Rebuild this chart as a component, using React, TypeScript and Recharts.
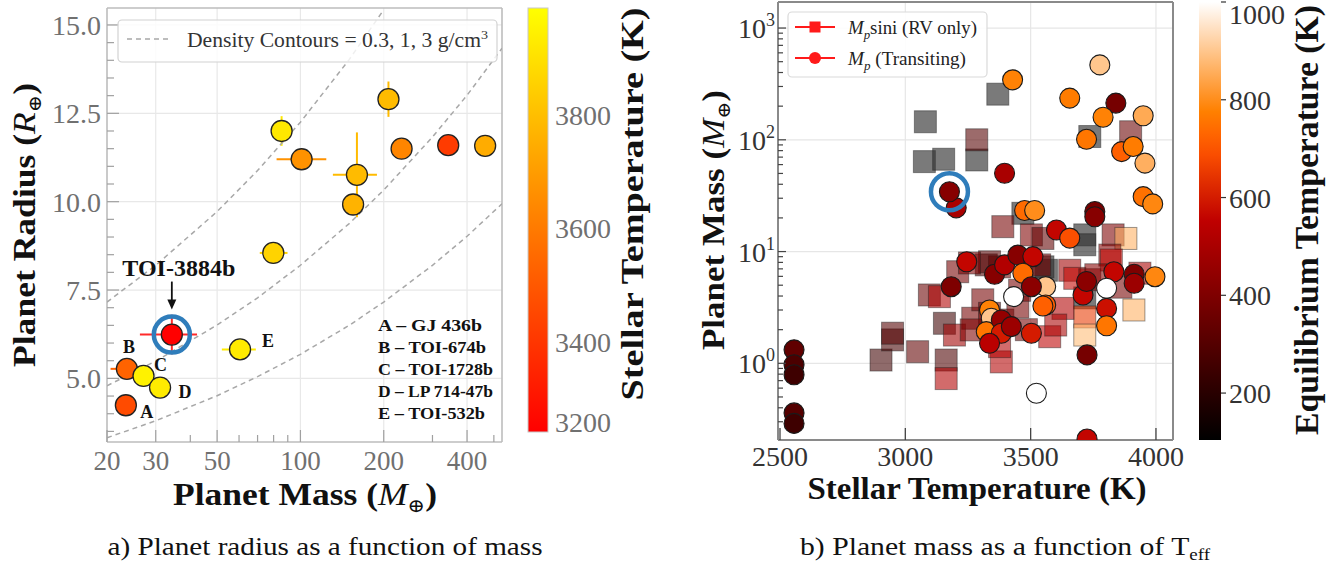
import React from "react";
import { ScatterChart, Scatter, XAxis, YAxis, ErrorBar, ReferenceLine } from "recharts";

const SERIF = "'Liberation Serif', 'DejaVu Serif', serif";

// ---------- panel a: planet radius vs mass ----------
const massA = [85.5, 101, 160, 155, 208, 232, 342, 465, 79.8, 60.5, 23.6, 27.1, 31.1, 23.4];
const radiusA = [12.0, 11.2, 10.76, 9.92, 12.9, 11.5, 11.6, 11.58, 8.55, 5.82, 5.27, 5.07, 4.74, 4.24];
const teffA = [3920, 3670, 3790, 3765, 3790, 3630, 3415, 3745, 3860, 3930, 3530, 3950, 3930, 3460];
const tagA = ["", "", "", "", "", "", "", "", "", "E", "B", "C", "D", "A"];
const massErrA = [[0, 0], [19, 23], [29, 29], [0, 0], [0, 0], [0, 0], [0, 0], [0, 0], [8.5, 10], [8.5, 8.5], [3, 3], [0, 0], [0, 0], [0, 0]];
const radErrA = [[0.42, 0.42], [0, 0], [1.2, 1.2], [0.3, 0.3], [0.5, 0.5], [0, 0], [0, 0], [0, 0], [0, 0], [0, 0], [0, 0], [0, 0], [0, 0], [0, 0]];

const toiMass = 34.3;
const toiRadius = 6.24;
const toiTeff = 3240;
const toiMassErr = [8, 8];
const toiRadErr = [0.56, 0.56];

// density contours (0.3, 1, 3 g/cm3)
const densityMass = [20, 30, 50, 70, 100, 150, 200, 300, 400, 535];
const rho03 = [7.16, 8.2, 9.72, 10.88, 12.25, 14.02, 15.43];
const rho1 = [4.79, 5.49, 6.51, 7.28, 8.2, 9.38, 10.33, 11.83, 13.01, 14.34];
const rho3 = [3.32, 3.8, 4.51, 5.05, 5.68, 6.5, 7.16, 8.2, 9.02, 9.94];

const massTicks = [20, 30, 40, 50, 60, 70, 80, 90, 100, 200, 300, 400, 500];
const massMajor = [20, 30, 50, 100, 200, 400];
const radiusTicks = [3.5, 4, 4.5, 5, 5.5, 6, 6.5, 7, 7.5, 8, 8.5, 9, 9.5, 10, 10.5, 11, 11.5, 12, 12.5, 13, 13.5, 14, 14.5, 15];
const radiusMajor = [5, 7.5, 10, 12.5, 15];

const keyLines = ["A – GJ 436b", "B – TOI-674b", "C – TOI-1728b", "D – LP 714-47b", "E – TOI-532b"];
const teffBarTicks = [3800, 3600, 3400, 3200];

// ---------- panel b: planet mass vs stellar temperature ----------
const circTeff = [2556, 2556, 2556, 2556, 2556, 3203, 3396, 3428, 3776, 3656, 3840, 3789, 3949, 3723, 3863, 3909, 3956, 3949, 3987, 3756, 3756, 3476, 3516, 3603, 3656, 3832, 3913, 3913, 3996, 3709, 3723, 3803, 3803, 3803, 3725, 3560, 3560, 3725, 3523, 3245, 3183, 3356, 3396, 3449, 3509, 3469, 3503, 3549, 3432, 3336, 3343, 3323, 3383, 3383, 3423, 3336, 3503];
const circMass = [1.32, 0.97, 0.79, 0.36, 0.29, 24.6, 50.2, 344, 468, 236, 213, 159, 164, 101, 78.4, 87, 61.8, 31, 26.7, 22.8, 20.5, 23.3, 23.3, 15.6, 13.2, 6.6, 6.27, 5.2, 5.96, 4.09, 5.4, 4.7, 3.1, 2.17, 1.19, 4.86, 3.33, 0.21, 0.54, 8.1, 4.85, 6.27, 7.6, 9.3, 9.0, 6.4, 4.85, 3.26, 3.95, 3.0, 2.53, 1.92, 2.44, 1.86, 2.13, 1.51, 1.86];
const circTeq = [330, 280, 250, 300, 250, 500, 500, 780, 900, 770, 380, 780, 850, 760, 720, 770, 860, 750, 790, 380, 420, 740, 800, 560, 690, 560, 400, 470, 790, 560, 430, null, 580, 760, 380, 900, 720, 560, null, 560, 400, 420, 520, 420, 560, 740, 430, 720, null, 780, 900, 760, 450, 600, 470, 540, 600];

const sqTeff = [3080, 3076, 3153, 3285, 3369, 3736, 3469, 3716, 3716, 3563, 3549, 3716, 3285, 3899, 2903, 2949, 2949, 3049, 3163, 3163, 3156, 3196, 3269, 3096, 3136, 3209, 3323, 3376, 3309, 3383, 3336, 3389, 3503, 3549, 3336, 3536, 3576, 3376, 3389, 3449, 3263, 3829, 3880, 3816, 3822, 3936, 3912, 3716, 3716, 3629, 3656, 3676, 3736, 3256, 3456, 3483, 3600, 3860, 3760];
const sqMass = [145, 63.8, 67, 66, 256, 107, 22, 14.1, 11.5, 6.8, 7.3, 3.85, 100, 118, 1.07, 1.62, 1.86, 1.27, 1.07, 0.73, 2.28, 1.79, 2.53, 4.09, 3.95, 6.6, 7.6, 7.3, 3.7, 1.03, 2.8, 16.7, 14.1, 13.1, 8.1, 7.6, 1.73, 1.41, 2.44, 3.2, 1.99, 14.1, 13.1, 9.3, 8.4, 6.4, 3.0, 2.6, 1.79, 3.1, 6.8, 5.76, 5.6, 7.9, 4.5, 2.0, 2.2, 4.8, 6.2];
const sqTeq = [null, null, null, null, null, null, null, null, null, null, null, null, 300, 350, 250, 260, 300, 330, 280, 520, 250, 480, 380, 350, 520, 380, 300, 360, 380, 520, 360, 380, 400, 330, 300, 380, 550, 520, 380, 380, 400, 400, 860, 420, 560, 500, 860, 650, 880, 520, 480, 560, 420, 400, 380, 380, 500, 380, 420];

const toiB = { teff: 3176, mass: 34.3, teq: 420 };

const teffTicks = [2500, 3000, 3500, 4000];
const mpMajor = [1, 10, 100, 1000];
const mpTicks = [0.3, 0.4, 0.5, 0.6, 0.7, 0.8, 0.9, 1, 2, 3, 4, 5, 6, 7, 8, 9, 10, 20, 30, 40, 50, 60, 70, 80, 90, 100, 200, 300, 400, 500, 600, 700, 800, 900, 1000];
const teqBarTicks = [1000, 800, 600, 400, 200];

// colour maps
const clamp01 = (v: number) => Math.max(0, Math.min(1, v));
const TEFF_MIN = 3241;
const TEFF_MAX = 3988;
const TEQ_MIN = 104;
const TEQ_MAX = 1000;
const autumn = (t: number) => `rgb(255, ${Math.round(255 * clamp01(t))}, 0)`;
const gistHeat = (t: number) => {
  const c = clamp01(t);
  const r = clamp01(1.5 * c);
  const g = clamp01(2 * c - 1);
  const b = clamp01(4 * c - 3);
  return `rgb(${Math.round(r * 255)}, ${Math.round(g * 255)}, ${Math.round(b * 255)})`;
};
const teffColor = (v: number) => autumn((v - TEFF_MIN) / (TEFF_MAX - TEFF_MIN));
const teqColor = (v: number | null) => (v == null ? "#ffffff" : gistHeat((v - TEQ_MIN) / (TEQ_MAX - TEQ_MIN)));

const pointsA = massA.map((m, i) => ({
  x: m,
  y: radiusA[i],
  teff: teffA[i],
  tag: tagA[i],
  ex: massErrA[i],
  ey: radErrA[i],
}));
const toiA = [{ x: toiMass, y: toiRadius, teff: toiTeff, ex: toiMassErr, ey: toiRadErr }];
const contours = [rho03, rho1, rho3].map((r) => r.map((v, i) => ({ x: densityMass[i], y: v })));

const circlesB = circTeff.map((t, i) => ({ x: t, y: circMass[i], teq: circTeq[i] }));
const squaresB = sqTeff.map((t, i) => ({ x: t, y: sqMass[i], teq: sqTeq[i] }));
const toiPointB = [{ x: toiB.teff, y: toiB.mass, teq: toiB.teq }];

const tagOffset: Record<string, [number, number]> = {
  A: [21, 13],
  B: [2, -16],
  C: [17, -5],
  D: [25, 10],
  E: [28, -2],
};

const nothing = () => <g />;

const PointA = (p: any) => {
  const { cx, cy, payload } = p;
  const off = tagOffset[payload.tag];
  return (
    <g>
      <circle cx={cx} cy={cy} r={10.5} fill={teffColor(payload.teff)} stroke="#222" strokeWidth={1.3} />
      {off && (
        <text x={cx + off[0]} y={cy + off[1]} textAnchor="middle" fontSize={18} fontWeight="bold" fontFamily={SERIF} fill="#111">
          {payload.tag}
        </text>
      )}
    </g>
  );
};

const RingA = (p: any) => {
  const { cx, cy } = p;
  return (
    <g>
      <circle cx={cx} cy={cy} r={18} fill="none" stroke="#2f7dbb" strokeWidth={4.5} />
      <text x={cx + 7} y={cy - 59} textAnchor="middle" fontSize={24} fontWeight="bold" fontFamily={SERIF} fill="#111" textLength={113} lengthAdjust="spacingAndGlyphs">
        TOI-3884b
      </text>
      <line x1={cx} y1={cy - 53} x2={cx} y2={cy - 33} stroke="#111" strokeWidth={1.8} />
      <polygon points={`${cx - 4.5},${cy - 35} ${cx + 4.5},${cy - 35} ${cx},${cy - 25}`} fill="#111" />
    </g>
  );
};

const CircleB = (p: any) => {
  const { cx, cy, payload } = p;
  return <circle cx={cx} cy={cy} r={10} fill={teqColor(payload.teq)} stroke="#1a1a1a" strokeWidth={1.1} />;
};

const SquareB = (p: any) => {
  const { cx, cy, payload } = p;
  const gray = payload.teq == null;
  return (
    <rect
      x={cx - 11}
      y={cy - 11}
      width={22}
      height={22}
      fill={gray ? "#333333" : teqColor(payload.teq)}
      fillOpacity={gray ? 0.65 : 0.58}
      stroke="#222"
      strokeOpacity={0.45}
      strokeWidth={1}
    />
  );
};

const RingB = (p: any) => {
  const { cx, cy } = p;
  return <circle cx={cx} cy={cy} r={18.5} fill="none" stroke="#2f7dbb" strokeWidth={4.5} />;
};

const MassTick = (p: any) => {
  const { x, y, payload } = p;
  const major = massMajor.includes(payload.value);
  return (
    <g>
      <line x1={x} x2={x} y1={y} y2={y - (major ? 12 : 7)} stroke="#a0a0a0" strokeWidth={1.2} />
      {major && (
        <text x={x} y={y + 28} textAnchor="middle" fontSize={27} fill="#707070" fontFamily={SERIF}>
          {payload.value}
        </text>
      )}
    </g>
  );
};

const RadiusTick = (p: any) => {
  const { x, y, payload } = p;
  const major = radiusMajor.includes(payload.value);
  return (
    <g>
      <line x1={x} x2={x + (major ? 12 : 7)} y1={y} y2={y} stroke="#a0a0a0" strokeWidth={1.2} />
      {major && (
        <text x={x - 6} y={y + 10} textAnchor="end" fontSize={28} fill="#707070" fontFamily={SERIF}>
          {payload.value.toFixed(1)}
        </text>
      )}
    </g>
  );
};

const TeffTick = (p: any) => {
  const { x, y, payload } = p;
  return (
    <g>
      <line x1={x} x2={x} y1={y} y2={y - 12} stroke="#444" strokeWidth={1.3} />
      <text x={x} y={y + 26} textAnchor="middle" fontSize={28} fill="#333" fontFamily={SERIF}>
        {payload.value}
      </text>
    </g>
  );
};

const MpTick = (p: any) => {
  const { x, y, payload } = p;
  const major = mpMajor.includes(payload.value);
  return (
    <g>
      <line x1={x} x2={x + (major ? 8 : 5)} y1={y} y2={y} stroke="#444" strokeWidth={1.2} />
      {major && (
        <text x={x - 3} y={y + 10} textAnchor="end" fontSize={28} fill="#333" fontFamily={SERIF}>
          10
          <tspan dy={-12} fontSize={18}>
            {Math.round(Math.log10(payload.value))}
          </tspan>
        </text>
      )}
    </g>
  );
};

function PanelA() {
  const frame = { stroke: "#bdbdbd", strokeWidth: 1.6 };
  return (
    <ScatterChart width={520} height={520} margin={{ top: 0, right: 10, bottom: 38, left: 47 }}>
      <XAxis
        dataKey="x"
        type="number"
        scale="log"
        domain={[20, 535]}
        allowDataOverflow
        ticks={massTicks}
        interval={0}
        tick={(p: any) => <MassTick {...p} />}
        tickLine={false}
        tickSize={0}
        tickMargin={0}
        height={40}
        axisLine={frame}
      />
      <XAxis xAxisId="top" orientation="top" type="number" scale="log" domain={[20, 535]} allowDataOverflow tick={false} tickLine={false} height={8} axisLine={frame} />
      <YAxis
        dataKey="y"
        type="number"
        domain={[3.2, 15.48]}
        allowDataOverflow
        ticks={radiusTicks}
        interval={0}
        tick={(p: any) => <RadiusTick {...p} />}
        tickLine={false}
        tickSize={0}
        tickMargin={0}
        width={60}
        axisLine={frame}
      />
      <YAxis yAxisId="right" orientation="right" type="number" domain={[3.2, 15.48]} allowDataOverflow tick={false} tickLine={false} width={8} axisLine={frame} />
      {massMajor.slice(1).map((v) => (
        <ReferenceLine key={`gx${v}`} x={v} stroke="#e8e8e8" strokeWidth={1.2} />
      ))}
      {radiusMajor.map((v) => (
        <ReferenceLine key={`gy${v}`} y={v} stroke="#e8e8e8" strokeWidth={1.2} />
      ))}
      {contours.map((c, i) => (
        <Scatter
          key={`rho${i}`}
          data={c}
          line={{ stroke: "#a8a8a8", strokeWidth: 1.5, strokeDasharray: "5 4" }}
          lineType="joint"
          shape={nothing}
          isAnimationActive={false}
        />
      ))}
      {pointsA.map((d, i) => (
        <Scatter key={`pa${i}`} data={[d]} shape={PointA} isAnimationActive={false}>
          <ErrorBar dataKey="ex" direction="x" width={0} stroke={teffColor(d.teff)} strokeWidth={2} />
          <ErrorBar dataKey="ey" direction="y" width={0} stroke={teffColor(d.teff)} strokeWidth={2} />
        </Scatter>
      ))}
      <Scatter data={toiA} shape={RingA} isAnimationActive={false} />
      <Scatter data={toiA} shape={PointA} isAnimationActive={false}>
        <ErrorBar dataKey="ex" direction="x" width={0} stroke="#ff2a2a" strokeWidth={2} />
        <ErrorBar dataKey="ey" direction="y" width={0} stroke="#ff2a2a" strokeWidth={2} />
      </Scatter>
    </ScatterChart>
  );
}

function PanelB() {
  const frame = { stroke: "#8a8a8a", strokeWidth: 2 };
  return (
    <ScatterChart width={510} height={520} margin={{ top: 0, right: 9, bottom: 40, left: 38 }}>
      <XAxis
        dataKey="x"
        type="number"
        domain={[2492, 4068]}
        allowDataOverflow
        ticks={teffTicks}
        interval={0}
        tick={(p: any) => <TeffTick {...p} />}
        tickLine={false}
        tickSize={0}
        tickMargin={0}
        height={40}
        axisLine={frame}
      />
      <XAxis xAxisId="top" orientation="top" type="number" domain={[2492, 4068]} allowDataOverflow tick={false} tickLine={false} height={2} axisLine={frame} />
      <YAxis
        dataKey="y"
        type="number"
        scale="log"
        domain={[0.206, 1710]}
        allowDataOverflow
        ticks={mpTicks}
        interval={0}
        tick={(p: any) => <MpTick {...p} />}
        tickLine={false}
        tickSize={0}
        tickMargin={0}
        width={60}
        axisLine={frame}
      />
      <YAxis yAxisId="right" orientation="right" type="number" scale="log" domain={[0.206, 1710]} allowDataOverflow tick={false} tickLine={false} width={8} axisLine={frame} />
      {teffTicks.slice(1).map((v) => (
        <ReferenceLine key={`gx${v}`} x={v} stroke="#e6e6e6" strokeWidth={1.2} />
      ))}
      {mpMajor.map((v) => (
        <ReferenceLine key={`gy${v}`} y={v} stroke="#e6e6e6" strokeWidth={1.2} />
      ))}
      <Scatter data={squaresB} shape={SquareB} isAnimationActive={false} />
      <Scatter data={circlesB} shape={CircleB} isAnimationActive={false} />
      <Scatter data={toiPointB} shape={CircleB} isAnimationActive={false} />
      <Scatter data={toiPointB} shape={RingB} isAnimationActive={false} />
    </ScatterChart>
  );
}

const barA = { x: 528, w: 20, top: 8, bottom: 432 };
const barB = { x: 1199, w: 22, top: 2, bottom: 440 };
const posA = (v: number) => barA.top + ((TEFF_MAX - v) / (TEFF_MAX - TEFF_MIN)) * (barA.bottom - barA.top);
const posB = (v: number) => barB.top + ((TEQ_MAX - v) / (TEQ_MAX - TEQ_MIN)) * (barB.bottom - barB.top);
const heatStops = Array.from({ length: 21 }, (_, i) => i / 20);

function Overlay() {
  const f = { fontFamily: SERIF };
  return (
    <svg width={1335} height={563} style={{ position: "absolute", left: 0, top: 0, pointerEvents: "none", fontFamily: SERIF }}>
      <defs>
        <linearGradient id="autumnGrad" x1="0" y1="1" x2="0" y2="0">
          <stop offset="0" stopColor={autumn(0)} />
          <stop offset="1" stopColor={autumn(1)} />
        </linearGradient>
        <linearGradient id="heatGrad" x1="0" y1="1" x2="0" y2="0">
          {heatStops.map((t) => (
            <stop key={t} offset={t} stopColor={gistHeat(t)} />
          ))}
        </linearGradient>
      </defs>

      {/* legend, panel a */}
      <rect x={118} y={20} width={379} height={42} rx={4} fill="#fff" fillOpacity={0.82} stroke="#d2d2d2" strokeWidth={1.2} />
      <line x1={127} x2={168} y1={39} y2={39} stroke="#a8a8a8" strokeWidth={1.5} strokeDasharray="5 4" />
      <text {...f} x={187} y={47} fontSize={20} fill="#333" textLength={301} lengthAdjust="spacingAndGlyphs">
        Density Contours = 0.3, 1, 3 g/cm<tspan dy={-8} fontSize={13}>3</tspan>
      </text>

      {/* key of labelled planets */}
      {keyLines.map((s, i) => (
        <text {...f} key={s} x={378} y={331 + i * 22} fontSize={16.5} fontWeight="bold" fill="#111" textLength={[104, 108, 115, 115, 107][i]} lengthAdjust="spacingAndGlyphs">
          {s}
        </text>
      ))}

      {/* axis titles, panel a */}
      <text {...f} transform="translate(35,225) rotate(-90)" textAnchor="middle" fontSize={31} fontWeight="bold" fill="#111" textLength={284} lengthAdjust="spacingAndGlyphs">
        Planet Radius (<tspan fontStyle="italic" fontWeight="normal">R</tspan>
        <tspan dy={6} fontSize={18} fontWeight="normal">⊕</tspan>
        <tspan dy={-6}>)</tspan>
      </text>
      <text {...f} x={305} y={505} textAnchor="middle" fontSize={32} fontWeight="bold" fill="#111" textLength={264} lengthAdjust="spacingAndGlyphs">
        Planet Mass (<tspan fontStyle="italic" fontWeight="normal">M</tspan>
        <tspan dy={7} fontSize={19} fontWeight="normal">⊕</tspan>
        <tspan dy={-7}>)</tspan>
      </text>

      {/* colour bar, panel a */}
      <rect x={barA.x} y={barA.top} width={barA.w} height={barA.bottom - barA.top} fill="url(#autumnGrad)" stroke="#c8c8c8" strokeWidth={1} />
      {teffBarTicks.map((v) => (
        <text {...f} key={v} x={555} y={Math.min(posA(v), barA.bottom - 10) + 10} fontSize={28} fill="#707070">
          {v}
        </text>
      ))}
      <text {...f} transform="translate(643,204) rotate(-90)" textAnchor="middle" fontSize={32} fontWeight="bold" fill="#111" textLength={393} lengthAdjust="spacingAndGlyphs">
        Stellar Temperature (K)
      </text>

      {/* legend, panel b */}
      <rect x={788} y={12} width={199} height={65} rx={4} fill="#fff" fillOpacity={0.9} stroke="#dadada" strokeWidth={1.2} />
      <line x1={795} x2={835} y1={27} y2={27} stroke="#ff1a1a" strokeWidth={2} />
      <rect x={809.5} y={21.5} width={11} height={11} fill="#ff1a1a" />
      <text {...f} x={848} y={34} fontSize={19} fill="#222" textLength={129} lengthAdjust="spacingAndGlyphs">
        <tspan fontStyle="italic">M</tspan>
        <tspan dy={5} fontSize={13} fontStyle="italic">p</tspan>
        <tspan dy={-5}>sini (RV only)</tspan>
      </text>
      <line x1={795} x2={835} y1={58} y2={58} stroke="#ff1a1a" strokeWidth={2} />
      <circle cx={815} cy={58} r={6} fill="#ff1a1a" />
      <text {...f} x={848} y={65} fontSize={19} fill="#222" textLength={118} lengthAdjust="spacingAndGlyphs">
        <tspan fontStyle="italic">M</tspan>
        <tspan dy={5} fontSize={13} fontStyle="italic">p</tspan>
        <tspan dy={-5}> (Transiting)</tspan>
      </text>

      {/* axis titles, panel b */}
      <text {...f} transform="translate(724,220) rotate(-90)" textAnchor="middle" fontSize={31} fontWeight="bold" fill="#111" textLength={260} lengthAdjust="spacingAndGlyphs">
        Planet Mass (<tspan fontStyle="italic" fontWeight="normal">M</tspan>
        <tspan dy={6} fontSize={18} fontWeight="normal">⊕</tspan>
        <tspan dy={-6}>)</tspan>
      </text>
      <text {...f} x={977} y={499} textAnchor="middle" fontSize={31} fontWeight="bold" fill="#111" textLength={339} lengthAdjust="spacingAndGlyphs">
        Stellar Temperature (K)
      </text>

      {/* colour bar, panel b */}
      <rect x={barB.x} y={barB.top} width={barB.w} height={barB.bottom - barB.top} fill="url(#heatGrad)" />
      {teqBarTicks.map((v) => (
        <g key={v}>
          <line x1={barB.x + barB.w} x2={barB.x + barB.w + 5} y1={posB(v)} y2={posB(v)} stroke="#333" strokeWidth={1.2} />
          <text {...f} x={1229} y={Math.max(posB(v) + 10, 24)} fontSize={28} fill="#333">
            {v}
          </text>
        </g>
      ))}
      <text {...f} transform="translate(1318,220) rotate(-90)" textAnchor="middle" fontSize={34} fontWeight="bold" fill="#111" textLength={430} lengthAdjust="spacingAndGlyphs">
        Equilibrium Temperature (K)
      </text>

      {/* captions */}
      <text {...f} x={325} y={555} textAnchor="middle" fontSize={25} fill="#111" textLength={435} lengthAdjust="spacingAndGlyphs">
        a) Planet radius as a function of mass
      </text>
      <text {...f} x={1005} y={555} textAnchor="middle" fontSize={25} fill="#111" textLength={410} lengthAdjust="spacingAndGlyphs">
        b) Planet mass as a function of T<tspan dy={5} fontSize={16}>eff</tspan>
      </text>
    </svg>
  );
}

export default function App() {
  return (
    <div style={{ position: "absolute", left: 0, top: 0, width: 1335, height: 563, background: "#fff", overflow: "hidden" }}>
      <div style={{ position: "absolute", left: 0, top: 0 }}>
        <PanelA />
      </div>
      <div style={{ position: "absolute", left: 680, top: 0 }}>
        <PanelB />
      </div>
      <Overlay />
    </div>
  );
}
